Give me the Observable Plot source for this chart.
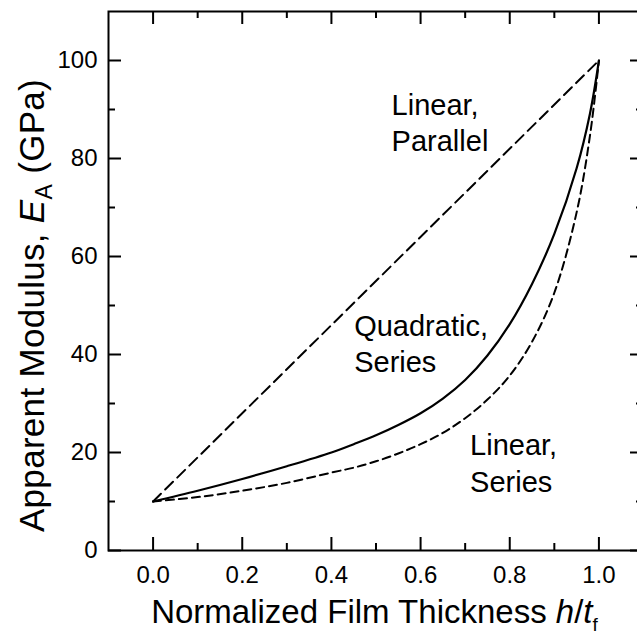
<!DOCTYPE html>
<html>
<head>
<meta charset="utf-8">
<script src="https://cdn.jsdelivr.net/npm/d3@7"></script>
<script src="https://cdn.jsdelivr.net/npm/@observablehq/plot@0.6"></script>
<style>
html, body { margin: 0; padding: 0; background: #fff; overflow: hidden; }
#chart { width: 637px; height: 641px; overflow: hidden; }
</style>
</head>
<body>
<div id="chart"></div>
<script>
// Normalized film thickness h/t_f samples
const hValues = [0, 0.1, 0.2, 0.3, 0.4, 0.45, 0.5, 0.55, 0.6, 0.65, 0.7, 0.75, 0.8, 0.85, 0.9, 0.95, 0.98, 1.0];
// Apparent modulus E_A (GPa)
const quadraticSeries = [10, 12.2, 14.6, 17.2, 20.0, 21.7, 23.5, 25.6, 28.0, 31.0, 34.8, 39.8, 46.2, 54.4, 64.6, 78.0, 89.2, 100];
const linearSeries    = [10, 10.9, 12.2, 13.8, 15.9, 16.9, 18.2, 19.8, 21.7, 24.0, 27.0, 30.8, 35.7, 42.6, 52.6, 69.0, 84.7, 100];
const parallelH = [0, 1];
const linearParallel = [10, 100];

const xMajorTicks = [0, 0.2, 0.4, 0.6, 0.8, 1.0];
const xMinorTicks = [0.1, 0.3, 0.5, 0.7, 0.9];
const yMajorTicks = [0, 20, 40, 60, 80, 100];
const yMinorTicks = [10, 30, 50, 70, 90];

const annotationTexts = ["Linear,\nParallel", "Quadratic,\nSeries", "Linear,\nSeries"];
const annotationH = [0.535, 0.451, 0.711];
const annotationE = [87.6, 42.5, 18.1];

const xLabelText = "XLABEL";
const yLabelText = "YLABEL";

const quadData = hValues.map((h, i) => ({h, E: quadraticSeries[i]}));
const linSerData = hValues.map((h, i) => ({h, E: linearSeries[i]}));
const parData = parallelH.map((h, i) => ({h, E: linearParallel[i]}));
const annData = annotationTexts.map((t, i) => ({t, h: annotationH[i], E: annotationE[i]}));

const W = 643, H = 641, mL = 108, mT = 11, mB = 91, mR = 0;
const plotW = W - mL - mR, plotH = H - mT - mB;
const major = 13, minor = 7;
const FONT = "'Liberation Sans', Arial, Helvetica, sans-serif";

const axisMarks = Plot.axisX ? [
  Plot.axisX(xMajorTicks, {tickSize: 0, tickPadding: 15, fontSize: 24, tickFormat: d => d.toFixed(1), label: null, fill: "black"}),
  Plot.axisY(yMajorTicks, {tickSize: 0, tickPadding: 11, fontSize: 24, tickFormat: d => String(d), label: null, fill: "black"})
] : [];

const plot = Plot.plot({
  width: W,
  height: H,
  marginLeft: mL,
  marginRight: mR,
  marginTop: mT,
  marginBottom: mB,
  style: {fontFamily: FONT, fontSize: "24px", background: "white", color: "black", maxWidth: "none"},
  x: {domain: [-0.1, 1.1], ticks: xMajorTicks, tickFormat: d => d.toFixed(1), tickSize: 0, tickPadding: 15, label: null},
  y: {domain: [0, 110], ticks: yMajorTicks, tickFormat: d => String(d), tickSize: 0, tickPadding: 11, label: null},
  marks: [
    Plot.frame({stroke: "black", strokeWidth: 2}),
    ...axisMarks,
    // inward ticks: bottom & top
    Plot.ruleX(xMajorTicks, {x: d => d, insetTop: plotH - major, stroke: "black", strokeWidth: 2}),
    Plot.ruleX(xMinorTicks, {x: d => d, insetTop: plotH - minor, stroke: "black", strokeWidth: 2}),
    Plot.ruleX(xMajorTicks, {x: d => d, insetBottom: plotH - major, stroke: "black", strokeWidth: 2}),
    Plot.ruleX(xMinorTicks, {x: d => d, insetBottom: plotH - minor, stroke: "black", strokeWidth: 2}),
    // inward ticks: left & right
    Plot.ruleY(yMajorTicks, {y: d => d, insetRight: plotW - major, stroke: "black", strokeWidth: 2}),
    Plot.ruleY(yMinorTicks, {y: d => d, insetRight: plotW - minor, stroke: "black", strokeWidth: 2}),
    Plot.ruleY(yMajorTicks, {y: d => d, insetLeft: plotW - major, stroke: "black", strokeWidth: 2}),
    Plot.ruleY(yMinorTicks, {y: d => d, insetLeft: plotW - minor, stroke: "black", strokeWidth: 2}),
    // curves
    Plot.line(parData, {x: "h", y: "E", stroke: "black", strokeWidth: 2, strokeDasharray: "11,6"}),
    Plot.line(linSerData, {x: "h", y: "E", stroke: "black", strokeWidth: 2, strokeDasharray: "8,5", curve: "catmull-rom"}),
    Plot.line(quadData, {x: "h", y: "E", stroke: "black", strokeWidth: 2.2, curve: "catmull-rom"}),
    // annotations
    Plot.text(annData, {x: "h", y: "E", text: "t", textAnchor: "start", fontSize: 29, lineHeight: 1.26, fill: "black"}),
    // axis titles
    Plot.text([xLabelText], {frameAnchor: "bottom", textAnchor: "middle", lineAnchor: "middle", dx: -1.5, dy: 62.4, fontSize: 33, fill: "black"}),
    Plot.text([yLabelText], {frameAnchor: "left", textAnchor: "middle", lineAnchor: "middle", dx: -76.2, dy: 24.5, rotate: -90, fontSize: 35, fill: "black"})
  ]
});

document.getElementById("chart").appendChild(plot);

const tickStrings = new Set([...xMajorTicks.map(d => d.toFixed(1)), ...yMajorTicks.map(String)]);

// rich text (italic + subscripts) for the axis titles
d3.select(plot).selectAll("text").each(function() {
  const el = d3.select(this);
  const txt = this.textContent;
  if (txt === xLabelText) {
    el.text(null);
    el.append("tspan").text("Normalized Film Thickness ");
    el.append("tspan").attr("font-style", "italic").text("h");
    el.append("tspan").text("/");
    el.append("tspan").attr("font-style", "italic").text("t");
    el.append("tspan").attr("font-size", 19).attr("dy", 8).text("f");
  } else if (txt === yLabelText) {
    el.text(null).style("letter-spacing", "0.3px");
    el.append("tspan").text("Apparent Modulus, ");
    el.append("tspan").attr("font-style", "italic").text("E");
    el.append("tspan").attr("font-size", 23).attr("dy", 8).text("A");
    el.append("tspan").attr("dy", -8).text(" (GPa)");
  } else if (tickStrings.has(txt)) {
    el.style("font-size", "24px").style("fill", "black");
  }
});
</script>
</body>
</html>
